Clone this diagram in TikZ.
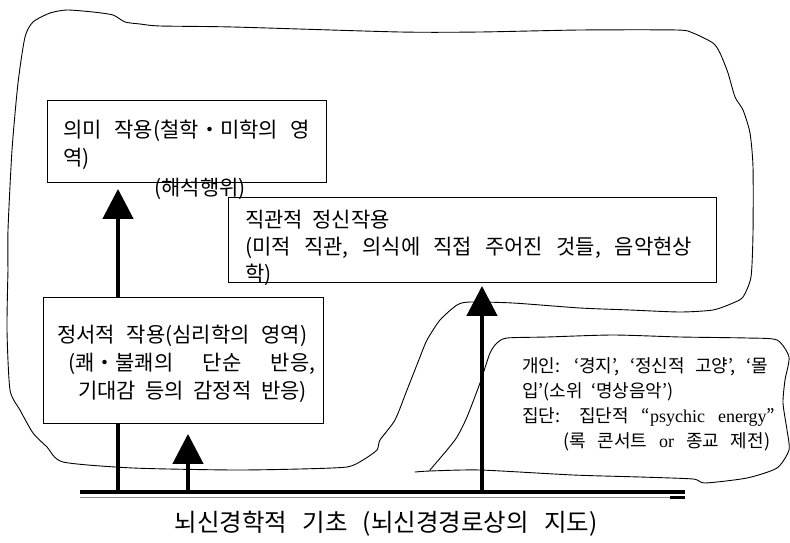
\documentclass[tikz,border=0pt]{standalone}
\usepackage{fontspec}
\setmainfont{Noto Sans CJK KR}
\newfontfamily\latserif{Liberation Serif}
\usetikzlibrary{arrows.meta}
\newcommand\fitline[2]{\spaceskip=0.45em plus 1fil\relax\hbox to #1pt{#2}}
\newcommand\natline[1]{\spaceskip=0.45em\relax\hbox{#1}}
\begin{document}
\begin{tikzpicture}[x=1pt,y=-1pt,
  blob/.style={line width=0.9pt, line join=round, line cap=round},
  boxnode/.style={draw, line width=0.9pt, fill=white, inner sep=0pt, anchor=north west},
  arr/.style={line width=4.5pt, -{Triangle[width=30pt,length=30pt]}},
  bigtxt/.style={inner sep=0pt, anchor=base west, font=\fontsize{21}{21}\selectfont},
  smalltxt/.style={inner sep=0pt, anchor=base west, font=\fontsize{18}{18}\selectfont},
  titletxt/.style={inner sep=0pt, anchor=base, font=\fontsize{24.5}{24.5}\selectfont}]
\useasboundingbox (0,0) rectangle (790,543);

% big outline
\draw[blob] plot[smooth, tension=0.4] coordinates {
  (8,270) (8,230) (12,150) (18,83) (25,37) (33,22) (50,13) (67,10) (93,12) (113,15)
  (125,22) (140,24) (160,26) (233,27) (400,32) (480,32) (580,30) (677,30) (693,33)
  (713,43) (720,53) (728,73) (735,97) (743,110) (750,133) (753,167) (753,233)
  (751,277) (743,297) (733,303) (713,310) (680,312) (630,310) (580,308) (513,303)
  (470,302) (457,305) (440,320) (427,340) (420,357) (407,390) (395,420) (380,440)
  (377,450) (363,460) (347,467) (300,469) (233,470) (133,468) (63,462) (47,447)
  (33,433) (20,410) (10,390) (7,330) (8,270)};

% small outline
\draw[blob] plot[smooth, tension=0.4] coordinates {
  (430,470) (447,450) (457,437) (467,417) (480,383) (490,353) (497,343) (507,338)
  (547,337) (613,335) (680,337) (747,338) (777,340) (789,357) (785,380) (783,403)
  (787,430) (789,450) (777,468) (747,478) (705,483) (693,479) (640,477) (573,475)
  (480,470) (430,471) (415,472)};

% base line
\coordinate (bl) at (80,492);
\coordinate (br) at (685,492);
\coordinate (bl2) at (80,497);
\coordinate (br2) at (685,497);
\coordinate (bs) at (670,497.5);
\coordinate (be) at (685,497.5);
\draw[line width=0.8pt, black!45] (bl2) -- (br2);
\draw[line width=3pt] (bs) -- (be);
\draw[line width=4pt] (bl) -- (br);

% boxes
\node[boxnode, minimum width=279pt, minimum height=82pt] (m) at (47,100) {};
\node[boxnode, minimum width=488pt, minimum height=85pt] (j) at (228,197) {};

% arrow feet
\coordinate (a1) at (118,492);
\coordinate (a2) at (188,492);
\coordinate (a3) at (482,492);

\draw[arr, shorten >=6pt] (a1) -- (a1 |- m.south);

\node[boxnode, minimum width=280pt, minimum height=126pt] (e) at (43,297) {};

\draw[arr, shorten >=10pt] (a2) -- (a2 |- e.south);
\draw[arr, shorten >=3pt] (a3) -- (a3 |- j.south);

% box texts
\node[bigtxt] (m1) at (63,137) {\fitline{247}{의미 작용(철학・미학의 영}};
\node[bigtxt] (m2) at (63,165) {역)};
\node[bigtxt, anchor=base] (m3) at (200,195) {(해석행위)};

\node[bigtxt] (j1) at (245,227) {\natline{직관적 정신작용}};
\node[bigtxt] (j2) at (245,254) {\fitline{447}{(미적 직관, 의식에 직접 주어진 것들, 음악현상}};
\node[bigtxt] (j3) at (245,281) {학)};

\node[bigtxt] (e1) at (57,342) {\fitline{250}{정서적 작용(심리학의 영역)}};
\node[bigtxt] (e2) at (68,370) {\fitline{247}{(쾌・불쾌의 단순 반응,}};
\node[bigtxt] (e3) at (78,398) {\fitline{227}{기대감 등의 감정적 반응)}};

% small blob texts
\node[smalltxt] (s1) at (522,372) {\fitline{246}{개인: ‘경지’, ‘정신적 고양’, ‘몰}};
\node[smalltxt] (s2) at (522,397) {\natline{입’(소위 ‘명상음악’)}};
\node[smalltxt] (s3) at (522,422) {\fitline{253}{집단: 집단적 “{\latserif psychic} {\latserif energy}”}};
\node[smalltxt] (s4) at (563,447) {\fitline{207}{(록 콘서트 {\latserif or} 종교 제전)}};

% title
\node[titletxt] (t) at (386,531) {\fitline{423}{뇌신경학적 기초 (뇌신경경로상의 지도)}};
\end{tikzpicture}
\end{document}
